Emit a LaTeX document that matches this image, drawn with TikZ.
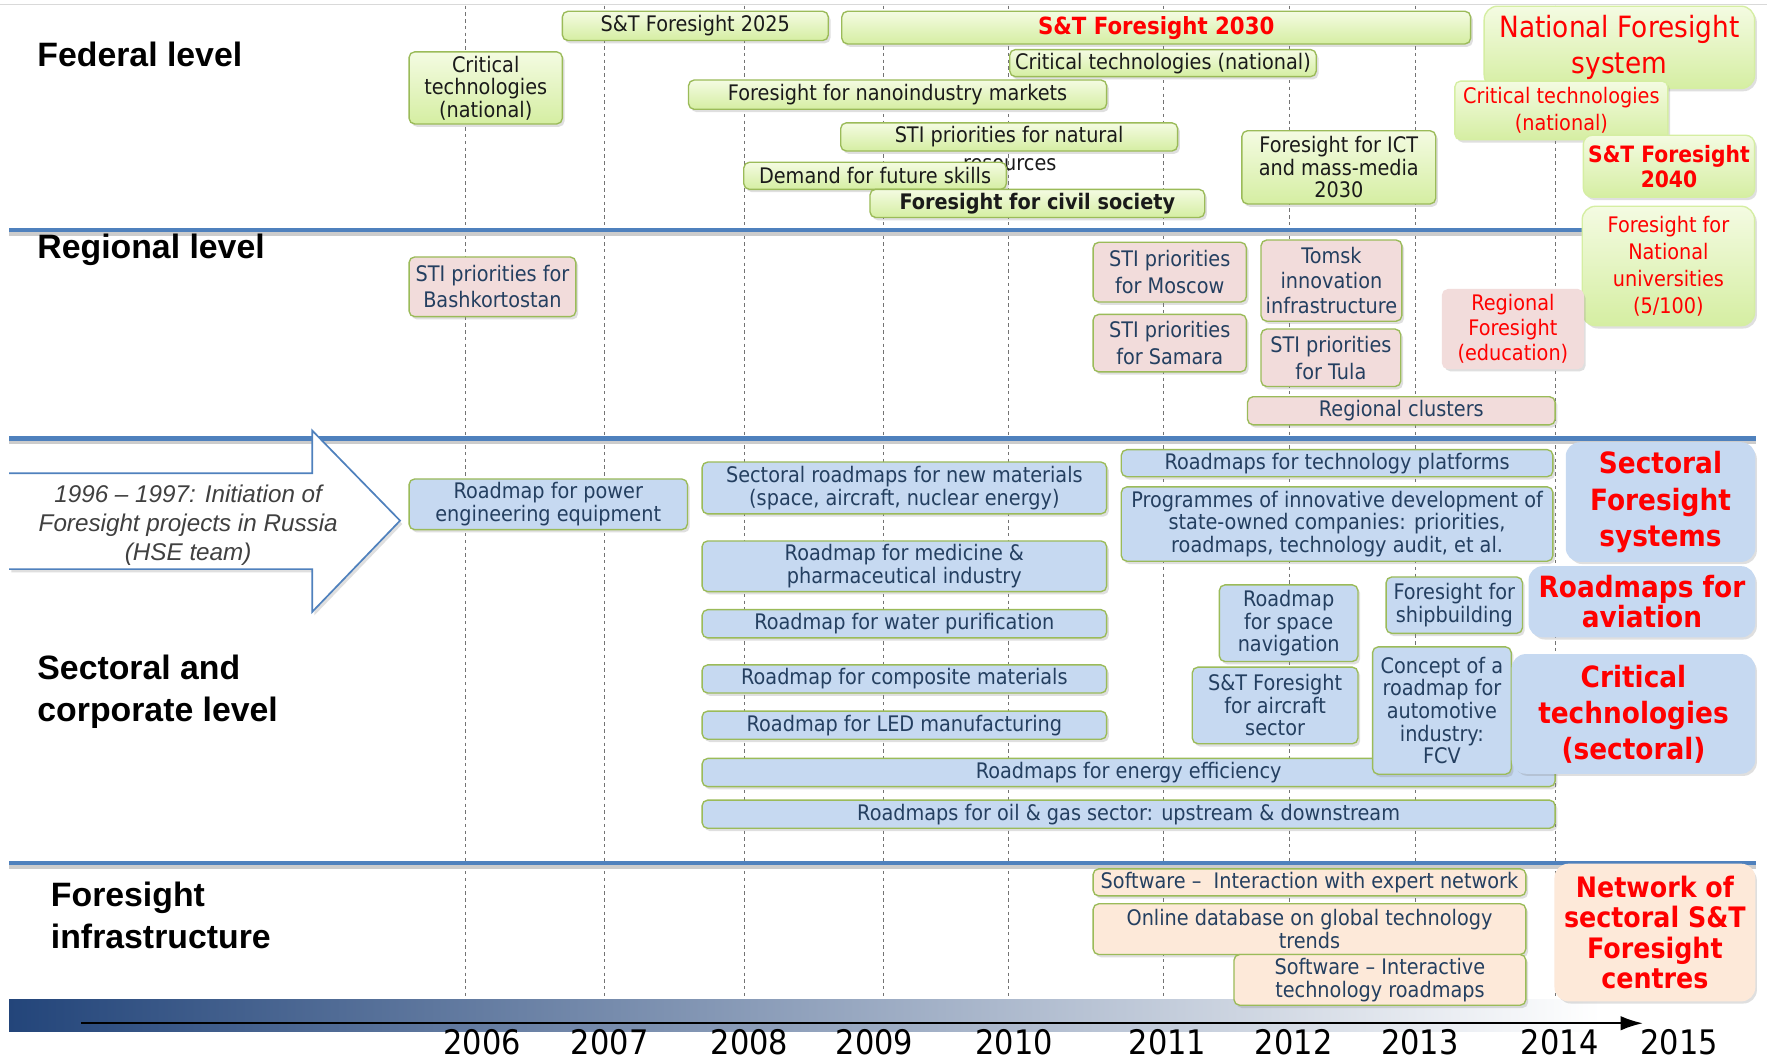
\documentclass[tikz,border=0pt]{standalone}
\usepackage{fontspec}
\setmainfont{DejaVu Sans}[FakeStretch=0.9]
\newfontfamily\headfont{Liberation Sans}
\usepackage{xcolor}
\usepackage{tikz}
\usetikzlibrary{shapes,arrows,arrows.meta,shadows}
\definecolor{boxgreen}{HTML}{9BBB59}
\definecolor{fedtop}{HTML}{F4FBE2}
\definecolor{fedbot}{HTML}{D5EEA2}
\definecolor{regpink}{HTML}{F2DCDB}
\definecolor{secblue}{HTML}{C6D9F1}
\definecolor{infpeach}{HTML}{FDE9D9}
\definecolor{sepblue}{HTML}{4F81BD}
\definecolor{bandblue}{HTML}{23457A}
\definecolor{boxtext}{HTML}{243F60}
\definecolor{fedtext}{HTML}{1A1A1A}
\definecolor{hotred}{HTML}{FF0000}
\tikzstyle{block} = [rectangle, rounded corners=5pt, draw=boxgreen, line width=1.2pt, align=center, inner sep=1pt, font=\fontsize{19}{20}\selectfont, drop shadow={shadow xshift=2pt, shadow yshift=-2.5pt, opacity=0.25}]
\tikzstyle{fed} = [block, top color=fedtop, bottom color=fedbot, text=fedtext]
\tikzstyle{reg} = [block, fill=regpink, text=boxtext, font=\fontsize{19}{22}\selectfont]
\tikzstyle{sec} = [block, fill=secblue, text=boxtext]
\tikzstyle{inf} = [block, fill=infpeach, text=boxtext]
\tikzstyle{big} = [block, rounded corners=12pt, text=hotred, font=\bfseries\fontsize{26}{32}\selectfont]
\tikzstyle{level} = [anchor=west, align=left, inner sep=0pt, font=\headfont\bfseries\fontsize{30}{37}\selectfont]
\tikzstyle{year} = [font=\fontsize{30}{30}\selectfont]
\tikzstyle{grid} = [draw=black!55, dashed, line width=0.8pt]
\tikzstyle{sep} = [draw=sepblue, line width=4pt, preaction={draw=black!20, line width=4pt, transform canvas={yshift=-3pt}}]
\tikzstyle{axis} = [draw=black, line width=2pt, -{Latex[length=20pt,width=13pt]}]

\begin{document}
\begin{tikzpicture}[x=1pt,y=-1pt]
\useasboundingbox (0,0) rectangle (1568,940);
\fill [white] (0,0) rectangle (1568,940);
\draw [black!15, line width=1pt] (0,4) -- (1568,4);

% year grid
\path [grid] (413,5) -- (413,900);
\path [grid] (536,5) -- (536,900);
\path [grid] (661,5) -- (661,900);
\path [grid] (784,5) -- (784,900);
\path [grid] (895,5) -- (895,900);
\path [grid] (1032,5) -- (1032,900);
\path [grid] (1144,5) -- (1144,900);
\path [grid] (1256,5) -- (1256,900);
\path [grid] (1380,5) -- (1380,900);

% level separators
\path [sep] (8,204) -- (1405,204);
\path [sep] (8,389) -- (1558,389);
\path [sep] (8,766) -- (1558,766);

% time axis
\shade [left color=bandblue, right color=white] (8,887) rectangle (1420,915);
\coordinate (axis-start) at (72,908);
\coordinate (axis-end) at (1458,908);
\path [axis] (axis-start) -- (axis-end);
\node [year] (y2006) at (428,925) {2006};
\node [year] (y2007) at (541,925) {2007};
\node [year] (y2008) at (665,925) {2008};
\node [year] (y2009) at (776,925) {2009};
\node [year] (y2010) at (900,925) {2010};
\node [year] (y2011) at (1036,925) {2011};
\node [year] (y2012) at (1148,925) {2012};
\node [year] (y2013) at (1260,925) {2013};
\node [year] (y2014) at (1384,925) {2014};
\node [year] (y2015) at (1490,925) {2015};

% levels
\node [level] (federal) at (33,48) {Federal level};
\node [level] (regional) at (33,222) {Regional level};
\node [level] (sectoral) at (33,614) {Sectoral and\\corporate level};
\node [level] (infra) at (45,812) {Foresight\\infrastructure};

% start of the story
\path [fill=white, draw=sepblue, line width=1.5pt, drop shadow={shadow xshift=2pt, shadow yshift=-3pt, opacity=0.25}]
  (8,420) -- (277,420) -- (277,382) -- (355,462) -- (277,543) -- (277,505) -- (8,505);
\node [align=center, text=black!75, font=\headfont\itshape\fontsize{21.5}{26}\selectfont] (hse) at (167,466)
  {1996 – 1997: Initiation of\\Foresight projects in Russia\\(HSE team)};

% federal level
\node [fed, minimum width=236pt, minimum height=26pt] (st-2025) at (617,23) {S\&T Foresight 2025};
\node [fed, minimum width=558pt, minimum height=29pt, text=hotred, font=\bfseries\fontsize{21}{24}\selectfont] (st-2030) at (1026,24.5) {S\&T Foresight 2030};
\node [fed, minimum width=272pt, minimum height=24pt] (crit-wide) at (1032,56) {Critical technologies (national)};
\node [fed, minimum width=136pt, minimum height=64pt] (crit-2006) at (431,78) {Critical\\technologies\\(national)};
\node [fed, minimum width=371pt, minimum height=26pt] (nano) at (796.5,84) {Foresight for nanoindustry markets};
\node [fed, minimum width=299pt, minimum height=25pt] (sti-nat) at (895.5,121.5) {STI priorities for natural};
\node [text=fedtext, font=\fontsize{19}{20}\selectfont] (sti-nat-rest) at (896,146) {resources};
\node [fed, minimum width=233pt, minimum height=24pt] (skills) at (776.5,156) {Demand for future skills};
\node [fed, minimum width=297pt, minimum height=25pt, font=\bfseries\fontsize{19}{20}\selectfont] (civil) at (920.5,180.5) {Foresight for civil society};
\node [fed, minimum width=172pt, minimum height=65pt] (ict) at (1188,148.5) {Foresight for ICT\\and mass-media\\2030};
\node [big, top color=fedtop, bottom color=fedbot, draw=fedbot, minimum width=240pt, minimum height=73pt, font=\fontsize{26}{32}\selectfont] (nat-sys) at (1437,42) {National Foresight\\system};
\node [fed, draw=fedbot, minimum width=189pt, minimum height=52pt, text=hotred, font=\fontsize{19}{24}\selectfont] (crit-red) at (1385.5,98) {Critical technologies\\(national)};
\node [big, top color=fedtop, bottom color=fedbot, draw=fedbot, rounded corners=8pt, minimum width=152pt, minimum height=55pt, font=\bfseries\fontsize{20}{22}\selectfont] (st-2040) at (1481,147.5) {S\&T Foresight\\2040};
\node [big, top color=fedtop, bottom color=fedbot, draw=fedbot, minimum width=153pt, minimum height=106pt, font=\fontsize{19}{24}\selectfont] (univ) at (1480.5,236) {Foresight for\\National\\universities\\(5/100)};

% regional level
\node [reg, minimum width=148pt, minimum height=53pt, font=\fontsize{19}{23}\selectfont] (bashk) at (437,254.5) {STI priorities for\\Bashkortostan};
\node [reg, minimum width=136pt, minimum height=53pt, font=\fontsize{19}{24}\selectfont] (moscow) at (1038,241.5) {STI priorities\\for Moscow};
\node [reg, minimum width=136pt, minimum height=51pt, font=\fontsize{19}{24}\selectfont] (samara) at (1038,304.5) {STI priorities\\for Samara};
\node [reg, minimum width=125pt, minimum height=72pt] (tomsk) at (1181.5,249) {Tomsk\\innovation\\infrastructure};
\node [reg, minimum width=124pt, minimum height=51pt, font=\fontsize{19}{24}\selectfont] (tula) at (1181,317.5) {STI priorities\\for Tula};
\node [reg, draw=regpink, minimum width=125pt, minimum height=70pt, text=hotred] (reg-edu) at (1342.5,292) {Regional\\Foresight\\(education)};
\node [reg, minimum width=273pt, minimum height=25pt] (clusters) at (1243.5,364.5) {Regional clusters};

% sectoral and corporate level
\node [sec, minimum width=247pt, minimum height=45pt] (power) at (486.5,447.5) {Roadmap for power\\engineering equipment};
\node [sec, minimum width=359pt, minimum height=46pt] (new-mat) at (802.5,433) {Sectoral roadmaps for new materials\\(space, aircraft, nuclear energy)};
\node [sec, minimum width=359pt, minimum height=45pt] (medicine) at (802.5,502.5) {Roadmap for medicine \&\\pharmaceutical industry};
\node [sec, minimum width=359pt, minimum height=25pt] (water) at (802.5,553.5) {Roadmap for water purification};
\node [sec, minimum width=359pt, minimum height=25pt] (composite) at (802.5,602.5) {Roadmap for composite materials};
\node [sec, minimum width=359pt, minimum height=25pt] (led) at (802.5,643.5) {Roadmap for LED manufacturing};
\node [sec, minimum width=757pt, minimum height=25pt] (energy) at (1001.5,685.5) {Roadmaps for energy efficiency};
\node [sec, minimum width=757pt, minimum height=25pt] (oil-gas) at (1001.5,722.5) {Roadmaps for oil \& gas sector: upstream \& downstream};
\node [sec, minimum width=383pt, minimum height=24pt] (platforms) at (1186.5,411) {Roadmaps for technology platforms};
\node [sec, minimum width=383pt, minimum height=66pt] (programmes) at (1186.5,465) {Programmes of innovative development of\\state-owned companies: priorities,\\roadmaps, technology audit, et al.};
\node [sec, minimum width=123pt, minimum height=68pt] (space) at (1143.5,553) {Roadmap\\for space\\navigation};
\node [sec, minimum width=121pt, minimum height=50pt] (ship) at (1290.5,537) {Foresight for\\shipbuilding};
\node [sec, minimum width=147pt, minimum height=68pt] (aircraft) at (1131.5,626) {S\&T Foresight\\for aircraft\\sector};
\node [sec, minimum width=123pt, minimum height=113pt] (fcv) at (1279.5,630.5) {Concept of a\\roadmap for\\automotive\\industry:\\FCV};
\node [big, fill=secblue, draw=secblue, minimum width=167pt, minimum height=105pt] (sec-fs) at (1473.5,445.5) {Sectoral\\Foresight\\systems};
\node [big, fill=secblue, draw=secblue, minimum width=200pt, minimum height=62pt, font=\bfseries\fontsize{26}{27}\selectfont] (aviation) at (1457,534) {Roadmaps for\\aviation};
\node [big, fill=secblue, draw=secblue, minimum width=215pt, minimum height=105pt] (crit-sec) at (1449.5,633.5) {Critical\\technologies\\(sectoral)};

% foresight infrastructure
\node [inf, minimum width=384pt, minimum height=24pt] (expert) at (1162,783) {Software --\ \ Interaction with expert network};
\node [inf, minimum width=384pt, minimum height=45pt] (database) at (1162,824.5) {Online database on global technology\\trends};
\node [inf, minimum width=259pt, minimum height=45pt] (roadmap-sw) at (1224.5,869.5) {Software -- Interactive\\technology roadmaps};
\node [big, fill=infpeach, draw=infpeach, minimum width=177pt, minimum height=121pt, font=\bfseries\fontsize{25}{27}\selectfont] (centres) at (1468.5,827.5) {Network of\\sectoral S\&T\\Foresight\\centres};
\end{tikzpicture}
\end{document}
